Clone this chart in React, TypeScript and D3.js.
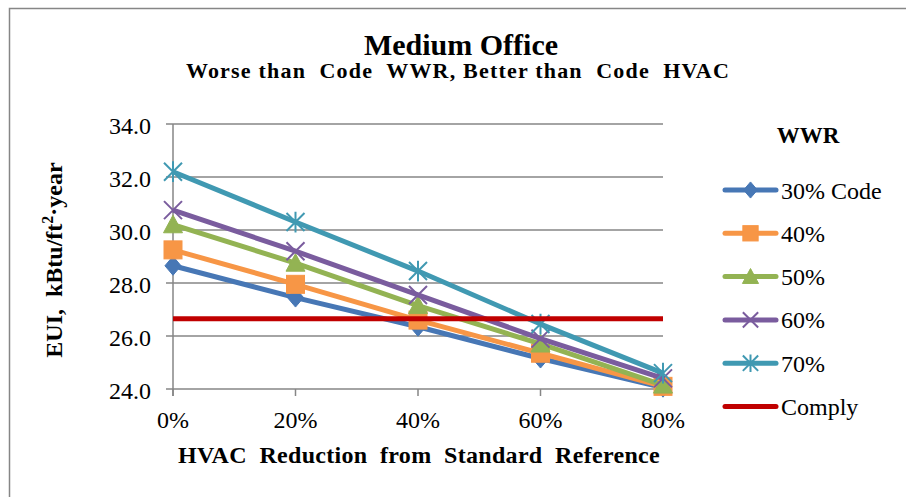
import React from "react";
import * as d3 from "d3";

const categories = ["0%", "20%", "40%", "60%", "80%"];
const yTicks = [24, 26, 28, 30, 32, 34];
const series30 = [28.65, 27.45, 26.35, 25.15, 24.05];
const series40 = [29.25, 27.95, 26.6, 25.35, 24.1];
const series50 = [30.2, 28.75, 27.15, 25.7, 24.15];
const series60 = [30.75, 29.2, 27.55, 25.9, 24.4];
const series70 = [32.2, 30.3, 28.45, 26.45, 24.6];
const complyValue = 26.65;
const seriesNames = ["30% Code", "40%", "50%", "60%", "70%"];
const seriesColors = ["#4777B5", "#F79646", "#93B353", "#7A5C9E", "#4099B2"];
const markerTypes = ["diamond", "square", "triangle", "x", "star"];
const complyName = "Comply";
const complyColor = "#C00000";

const W = 906;
const H = 497;
const plot = { left: 173, right: 663, top: 124, bottom: 389 };
const FONT = "'Times New Roman', 'Liberation Serif', Times, serif";
const RFONT = "'Liberation Serif', 'DejaVu Serif'";
const GRID = "#868686";

function Marker({ type, x, y, color, s = 1 }: any) {
  if (type === "diamond") {
    const r = 9.5 * s;
    return <path d={`M${x},${y - r}L${x + r * 0.85},${y}L${x},${y + r}L${x - r * 0.85},${y}Z`} fill={color} stroke={color} strokeWidth={1} />;
  }
  if (type === "square") {
    const r = 9 * s;
    return <rect x={x - r} y={y - r} width={2 * r} height={2 * r} fill={color} stroke={color} strokeWidth={1} />;
  }
  if (type === "triangle") {
    const r = 9.5 * s;
    return <path d={`M${x},${y - r}L${x + r},${y + r * 0.85}L${x - r},${y + r * 0.85}Z`} fill={color} stroke={color} strokeWidth={1} />;
  }
  if (type === "x") {
    const r = 9 * s;
    return <path d={`M${x - r},${y - r}L${x + r},${y + r}M${x - r},${y + r}L${x + r},${y - r}`} stroke={color} strokeWidth={2} fill="none" />;
  }
  const r = 9 * s;
  return <path d={`M${x - r},${y - r}L${x + r},${y + r}M${x - r},${y + r}L${x + r},${y - r}M${x},${y - r * 1.15}L${x},${y + r * 1.15}`} stroke={color} strokeWidth={2} fill="none" />;
}

function RText({ x, y, anchor = "start", children }: any) {
  return (
    <text x={x} y={y} fontFamily={RFONT} fontSize={24} textAnchor={anchor}>
      {children}
    </text>
  );
}

export default function App() {
  const data = [series30, series40, series50, series60, series70];
  const x = d3.scalePoint<string>().domain(categories).range([plot.left, plot.right]);
  const y = d3.scaleLinear().domain([24, 34]).range([plot.bottom, plot.top]);
  const line = d3.line<number>().x((_, i) => x(categories[i]) as number).y((d) => y(d));

  const legendX1 = 725;
  const legendX2 = 776;
  const legendRowY = (i: number) => 190 + i * 43.3;
  const tf = { fontFamily: FONT };

  return (
    <svg width={W} height={H} style={{ position: "absolute", left: 0, top: 0, background: "#fff" }}>
      <rect x={0} y={0} width={W} height={H} fill="#fff" />
      <rect x={9.5} y={8.5} width={W + 20} height={H + 20} fill="none" stroke={GRID} strokeWidth={1.5} />

      <text {...tf} x={461} y={55} textAnchor="middle" fontWeight="bold" fontSize={30}>Medium Office</text>
      <text {...tf} x={458} y={78} textAnchor="middle" fontWeight="bold" fontSize={22} letterSpacing={1.2} style={{ whiteSpace: "pre" }}>
        {"Worse than  Code  WWR, Better than  Code  HVAC"}
      </text>

      {yTicks.map((t) => (
        <g key={t}>
          <line x1={plot.left - 7} x2={plot.right} y1={y(t)} y2={y(t)} stroke={GRID} strokeWidth={1.5} />
          <RText x={151} y={y(t) + 9.5} anchor="end">{t.toFixed(1)}</RText>
        </g>
      ))}
      <line x1={plot.left} x2={plot.left} y1={plot.top} y2={plot.bottom + 7} stroke={GRID} strokeWidth={1.5} />
      {categories.map((c) => (
        <g key={c}>
          <line x1={x(c)} x2={x(c)} y1={plot.bottom} y2={plot.bottom + 7} stroke={GRID} strokeWidth={1.5} />
          <RText x={x(c)} y={428} anchor="middle">{c}</RText>
        </g>
      ))}

      <text {...tf} x={419} y={463} textAnchor="middle" fontWeight="bold" fontSize={24} letterSpacing={0.3} style={{ whiteSpace: "pre" }}>
        {"HVAC  Reduction  from  Standard  Reference"}
      </text>
      <text {...tf} transform="translate(62,260) rotate(-90)" textAnchor="middle" fontWeight="bold" fontSize={24} style={{ whiteSpace: "pre" }}>
        {"EUI,  kBtu/ft"}
        <tspan fontSize={16} dy={-9}>2</tspan>
        <tspan dy={9}>{"·year"}</tspan>
      </text>

      {data.map((vals, si) => (
        <g key={si}>
          <path d={line(vals) || ""} fill="none" stroke={seriesColors[si]} strokeWidth={5} strokeLinejoin="round" />
          {vals.map((v, i) => (
            <Marker key={i} type={markerTypes[si]} x={x(categories[i])} y={y(v)} color={seriesColors[si]} />
          ))}
        </g>
      ))}
      <line x1={plot.left} x2={plot.right} y1={y(complyValue)} y2={y(complyValue)} stroke={complyColor} strokeWidth={5} />

      <text {...tf} x={808} y={143} textAnchor="middle" fontWeight="bold" fontSize={23}>WWR</text>
      {seriesNames.map((n, i) => (
        <g key={n}>
          <line x1={legendX1} x2={legendX2} y1={legendRowY(i)} y2={legendRowY(i)} stroke={seriesColors[i]} strokeWidth={5} strokeLinecap="round" />
          <Marker type={markerTypes[i]} x={(legendX1 + legendX2) / 2} y={legendRowY(i)} color={seriesColors[i]} s={0.85} />
          <RText x={781} y={legendRowY(i) + 8.5}>{n}</RText>
        </g>
      ))}
      <line x1={legendX1} x2={legendX2} y1={legendRowY(5)} y2={legendRowY(5)} stroke={complyColor} strokeWidth={5} strokeLinecap="round" />
      <RText x={781} y={legendRowY(5) + 8.5}>{complyName}</RText>
    </svg>
  );
}
